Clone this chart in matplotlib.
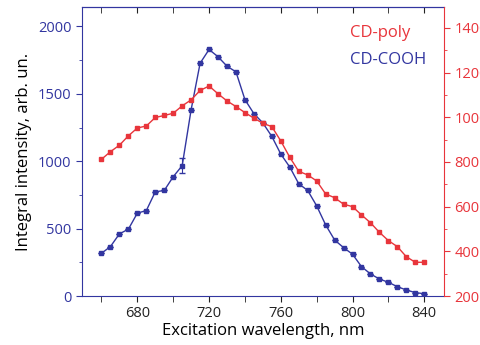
import numpy as np
import matplotlib.pyplot as plt
from matplotlib.ticker import MultipleLocator

# excitation wavelength, nm
wl = np.arange(660, 841, 5)

# CD-COOH, left axis
cooh = [317, 367, 461, 496, 615, 634, 773, 783, 885, 967,
        1383, 1727, 1829, 1775, 1705, 1663, 1457, 1353, 1284, 1184,
        1053, 957, 833, 783, 669, 528, 416, 359, 310, 218,
        164, 126, 102, 69, 45, 25, 17]
cooh_err = [0] * 9 + [55] + [0] * 27

# CD-poly, right axis
poly = [812, 846, 875, 917, 952, 961, 999, 1008, 1018, 1051,
        1078, 1120, 1140, 1105, 1073, 1048, 1021, 996, 973, 958,
        894, 821, 758, 742, 715, 657, 640, 611, 600, 563,
        528, 485, 448, 421, 376, 351, 351]

blue = '#3236a0'
red = '#e8353b'

plt.rcParams['font.family'] = ['Open Sans', 'DejaVu Sans']

fig = plt.figure(figsize=(4.81, 3.45), dpi=100)
ax = fig.add_axes([0.170, 0.142, 0.753, 0.838])
ax2 = ax.twinx()

ax.errorbar(wl, cooh, yerr=cooh_err, color=blue, marker='s', ms=3.5,
            lw=1, elinewidth=0.8, capsize=2, zorder=3)
ax2.plot(wl, poly, color=red, marker='s', ms=3.5, lw=1)

ax.set_xlim(649, 851)
ax.set_ylim(0, 2145)
ax2.set_ylim(200, 1494)

ax.set_xticks([680, 720, 760, 800, 840])
ax.xaxis.set_minor_locator(MultipleLocator(20))
ax.yaxis.set_major_locator(MultipleLocator(500))
ax.yaxis.set_minor_locator(MultipleLocator(250))
ax2.yaxis.set_major_locator(MultipleLocator(200))
ax2.yaxis.set_minor_locator(MultipleLocator(100))

ax.tick_params(axis='x', which='both', direction='out', length=4,
               labelsize=10.5, colors='#222222')
ax.tick_params(axis='y', which='major', length=4, colors=blue, labelsize=10.5)
ax.tick_params(axis='y', which='minor', length=2, colors=blue)
ax2.tick_params(axis='y', which='major', length=4, colors=red, labelsize=10.5)
ax2.tick_params(axis='y', which='minor', length=2, colors=red)

# inward ticks along the top edge
top = ax.secondary_xaxis('top')
top.set_xticks([680, 720, 760, 800, 840])
top.xaxis.set_minor_locator(MultipleLocator(20))
top.tick_params(which='both', direction='in', length=4, labeltop=False,
                colors='#222222')
top.spines['top'].set_color(blue)

ax.spines['left'].set_color(blue)
ax.spines['bottom'].set_color(blue)
ax.spines['top'].set_color(blue)
ax2.spines['left'].set_visible(False)
ax2.spines['top'].set_visible(False)
ax2.spines['bottom'].set_visible(False)
ax2.spines['right'].set_color(red)
ax.spines['right'].set_visible(False)

ax.set_xlabel('Excitation wavelength, nm', fontsize=12, labelpad=1)
ax.set_ylabel('Integral intensity, arb. un.', fontsize=12, labelpad=4)

ax.text(0.74, 0.91, 'CD-poly', color=red, fontsize=12, ha='left',
        va='center', transform=ax.transAxes)
ax.text(0.74, 0.817, 'CD-COOH', color=blue, fontsize=12, ha='left',
        va='center', transform=ax.transAxes)

fig.savefig('out.png', dpi=100)
